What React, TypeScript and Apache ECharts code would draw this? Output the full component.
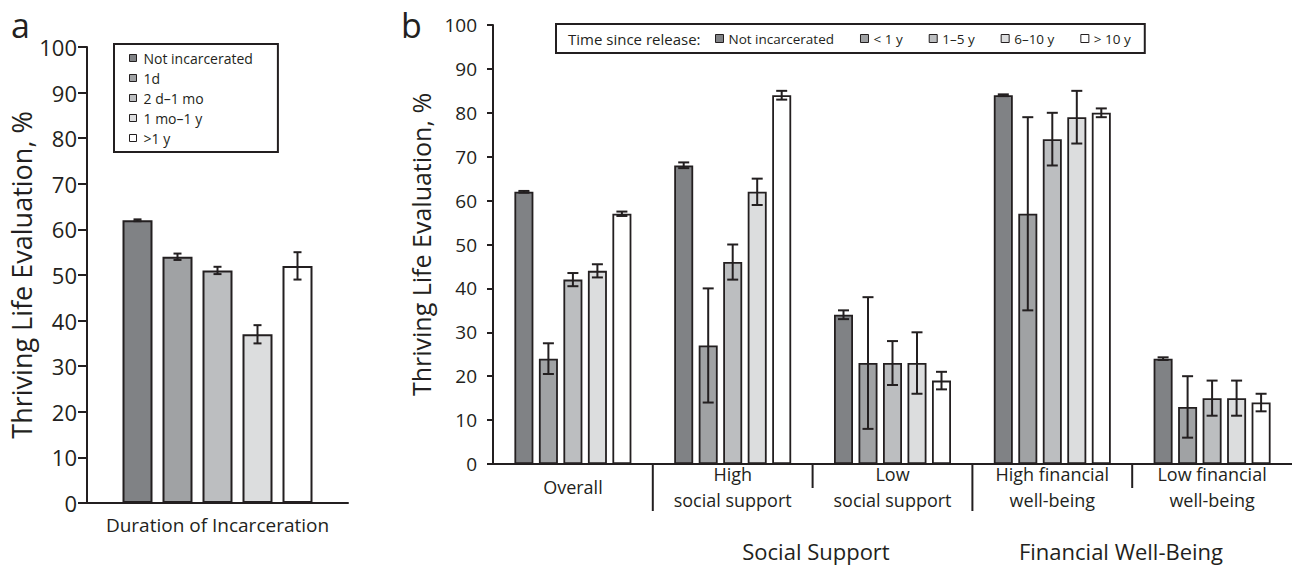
import React, { useEffect, useRef } from "react";
import * as echarts from "echarts";

// ---------- Panel a data ----------
const durationCategories = ["Duration of Incarceration"];
const durationNames = ["Not incarcerated", "1d", "2 d–1 mo", "1 mo–1 y", ">1 y"];
const durationValues = [62, 54, 51, 37, 52];
const durationLow = [61.8, 53.3, 50.2, 35, 49];
const durationHigh = [62.2, 54.7, 51.8, 39, 55];

// ---------- Panel b data ----------
const releaseCategories = [
  "Overall",
  "High\nsocial support",
  "Low\nsocial support",
  "High financial\nwell-being",
  "Low financial\nwell-being",
];
const releaseNames = ["Not incarcerated", "< 1 y", "1–5 y", "6–10 y", "> 10 y"];
const notIncarcerated = [62, 68, 34, 84, 24];
const notIncarceratedLow = [61.8, 67.4, 33, 83.8, 23.7];
const notIncarceratedHigh = [62.2, 68.7, 35, 84.2, 24.3];
const under1y = [24, 27, 23, 57, 13];
const under1yLow = [20.5, 14, 8, 35, 6];
const under1yHigh = [27.5, 40, 38, 79, 20];
const oneTo5y = [42, 46, 23, 74, 15];
const oneTo5yLow = [40.5, 42, 18, 68, 11];
const oneTo5yHigh = [43.5, 50, 28, 80, 19];
const sixTo10y = [44, 62, 23, 79, 15];
const sixTo10yLow = [42.5, 59, 16, 73, 11];
const sixTo10yHigh = [45.5, 65, 30, 85, 19];
const over10y = [57, 84, 19, 80, 14];
const over10yLow = [56.5, 83, 17, 79, 12];
const over10yHigh = [57.5, 85, 21, 81, 16];

const releaseValues = [notIncarcerated, under1y, oneTo5y, sixTo10y, over10y];
const releaseLow = [notIncarceratedLow, under1yLow, oneTo5yLow, sixTo10yLow, over10yLow];
const releaseHigh = [notIncarceratedHigh, under1yHigh, oneTo5yHigh, sixTo10yHigh, over10yHigh];

// separators below the category axis: after category index, long or short
const separatorsAfter = [0, 1, 2, 3];
const separatorLong = [true, false, true, false];

const groupLabels = ["Social Support", "Financial Well-Being"];

const yMin = 0;
const yMax = 100;
const yInterval = 10;

const FONT = "'Open Sans', 'Noto Sans', sans-serif";
const INK = "#231f20";
const barColors = ["#808285", "#a0a2a4", "#bcbec0", "#dcddde", "#ffffff"];

function errorRender(seriesIdx: number, n: number, barW: number, gap: number, capHalf: number, lw: number) {
  return (params: any, api: any) => {
    const cat = api.value(0);
    const lo = api.value(1);
    const hi = api.value(2);
    const pLo = api.coord([cat, lo]);
    const pHi = api.coord([cat, hi]);
    const total = n * barW + (n - 1) * gap;
    const x = pLo[0] - total / 2 + seriesIdx * (barW + gap) + barW / 2;
    const style = { stroke: INK, lineWidth: lw };
    return {
      type: "group",
      children: [
        { type: "line", shape: { x1: x, y1: pLo[1], x2: x, y2: pHi[1] }, style },
        { type: "line", shape: { x1: x - capHalf, y1: pLo[1], x2: x + capHalf, y2: pLo[1] }, style },
        { type: "line", shape: { x1: x - capHalf, y1: pHi[1], x2: x + capHalf, y2: pHi[1] }, style },
      ],
    };
  };
}

export default function App() {
  const ref = useRef<HTMLDivElement>(null);

  useEffect(() => {
    if (!ref.current) return;
    const chart = echarts.init(ref.current, null, { renderer: "svg" });

    const aBarW = 30;
    const aGap = 10;
    const bBarW = 19;
    const bGap = 5.5;

    const series: any[] = [];

    // Panel a bars
    durationNames.forEach((name, i) => {
      series.push({
        type: "bar",
        name,
        xAxisIndex: 0,
        yAxisIndex: 0,
        data: [durationValues[i]],
        barWidth: aBarW,
        barGap: `${(aGap / aBarW) * 100}%`,
        itemStyle: { color: barColors[i], borderColor: INK, borderWidth: 2 },
        z: 2,
      });
    });
    durationNames.forEach((name, i) => {
      series.push({
        type: "custom",
        name: "err-a-" + i,
        xAxisIndex: 0,
        yAxisIndex: 0,
        data: [[0, durationLow[i], durationHigh[i]]],
        encode: { x: 0, y: [1, 2] },
        renderItem: errorRender(i, durationNames.length, aBarW, aGap, 4, 2),
        z: 5,
        silent: true,
      });
    });

    // Panel b bars
    releaseNames.forEach((name, i) => {
      series.push({
        type: "bar",
        name,
        xAxisIndex: 1,
        yAxisIndex: 1,
        data: releaseValues[i],
        barWidth: bBarW,
        barGap: `${(bGap / bBarW) * 100}%`,
        itemStyle: { color: barColors[i], borderColor: INK, borderWidth: 1.8 },
        z: 2,
      });
    });
    releaseNames.forEach((name, i) => {
      series.push({
        type: "custom",
        name: "err-b-" + i,
        xAxisIndex: 1,
        yAxisIndex: 1,
        data: releaseValues[i].map((_, c) => [c, releaseLow[i][c], releaseHigh[i][c]]),
        encode: { x: 0, y: [1, 2] },
        renderItem: errorRender(i, releaseNames.length, bBarW, bGap, 5.5, 2),
        z: 5,
        silent: true,
      });
    });

    // separators below panel b category axis
    series.push({
      type: "custom",
      name: "separators",
      xAxisIndex: 1,
      yAxisIndex: 1,
      clip: false,
      silent: true,
      data: separatorsAfter.map((c, k) => [c, 0, separatorLong[k] ? 1 : 0]),
      encode: { x: 0, y: 1 },
      renderItem: (params: any, api: any) => {
        const p = api.coord([api.value(0), 0]);
        const band = api.size([1, 0])[0];
        const x = p[0] + band / 2;
        const len = api.value(2) ? 47 : 24;
        return {
          type: "line",
          shape: { x1: x, y1: p[1], x2: x, y2: p[1] + len },
          style: { stroke: INK, lineWidth: 2 },
        };
      },
    });

    const yAxisCommon = {
      type: "value",
      min: yMin,
      max: yMax,
      interval: yInterval,
      splitLine: { show: false },
      axisLine: { show: true, lineStyle: { color: INK, width: 2 } },
      nameLocation: "middle",
      nameRotate: 90,
    };

    const option: any = {
      animation: false,
      backgroundColor: "#ffffff",
      textStyle: { fontFamily: FONT, color: INK },
      grid: [
        { left: 87, top: 47, width: 261, height: 456, containLabel: false },
        { left: 493, top: 25, width: 800, height: 439, containLabel: false },
      ],
      xAxis: [
        {
          type: "category",
          gridIndex: 0,
          data: durationCategories,
          axisLine: { show: true, lineStyle: { color: INK, width: 2 } },
          axisTick: { show: false },
          axisLabel: {
            color: INK,
            fontFamily: FONT,
            fontSize: 19,
            margin: 22,
            verticalAlign: "middle",
          },
        },
        {
          type: "category",
          gridIndex: 1,
          data: releaseCategories,
          axisLine: { show: true, lineStyle: { color: INK, width: 2 } },
          axisTick: { show: false },
          axisLabel: {
            color: INK,
            fontFamily: FONT,
            fontSize: 18,
            lineHeight: 26,
            margin: 23,
            verticalAlign: "middle",
            interval: 0,
          },
        },
      ],
      yAxis: [
        {
          ...yAxisCommon,
          gridIndex: 0,
          name: "Thriving Life Evaluation, %",
          nameGap: 49,
          nameTextStyle: { fontFamily: FONT, fontSize: 27, color: INK },
          axisTick: { show: true, length: 9, lineStyle: { color: INK, width: 2 } },
          axisLabel: { color: INK, fontFamily: FONT, fontSize: 22, margin: 10 },
        },
        {
          ...yAxisCommon,
          gridIndex: 1,
          name: "Thriving Life Evaluation, %",
          nameGap: 58,
          nameTextStyle: { fontFamily: FONT, fontSize: 25, color: INK },
          axisTick: { show: true, length: 6, lineStyle: { color: INK, width: 2 } },
          axisLabel: { color: INK, fontFamily: FONT, fontSize: 19, margin: 16 },
        },
      ],
      legend: [
        {
          data: durationNames,
          orient: "vertical",
          left: 114,
          top: 44,
          padding: [7, 25, 7, 15],
          itemGap: 6,
          itemWidth: 7,
          itemHeight: 7,
          icon: "rect",
          selectedMode: false,
          borderColor: INK,
          borderWidth: 2,
          backgroundColor: "#ffffff",
          itemStyle: { borderColor: INK, borderWidth: 1 },
          textStyle: { fontFamily: FONT, fontSize: 14, color: INK, lineHeight: 14, padding: [0, 0, 0, 2] },
        },
        {
          data: releaseNames,
          orient: "horizontal",
          left: 556,
          top: 24,
          padding: [7, 14, 7, 159],
          itemGap: 26,
          itemWidth: 8,
          itemHeight: 8,
          icon: "rect",
          selectedMode: false,
          borderColor: INK,
          borderWidth: 2,
          backgroundColor: "#ffffff",
          itemStyle: { borderColor: INK, borderWidth: 1 },
          textStyle: { fontFamily: FONT, fontSize: 13.5, color: INK, lineHeight: 15 },
        },
      ],
      graphic: [
        { type: "text", left: 11, top: 8, z: 100, style: { text: "a", fontFamily: FONT, fontSize: 34, fill: INK } },
        { type: "text", left: 401, top: 8, z: 100, style: { text: "b", fontFamily: FONT, fontSize: 34, fill: INK } },
        {
          type: "text",
          x: 568,
          y: 39,
          z: 100,
          style: { text: "Time since release:", fontFamily: FONT, fontSize: 15, fill: INK, verticalAlign: "middle", align: "left" },
        },
        {
          type: "text",
          x: 816,
          y: 551,
          z: 100,
          style: { text: groupLabels[0], fontFamily: FONT, fontSize: 22, fill: INK, verticalAlign: "middle", align: "center" },
        },
        {
          type: "text",
          x: 1121,
          y: 551,
          z: 100,
          style: { text: groupLabels[1], fontFamily: FONT, fontSize: 22, fill: INK, verticalAlign: "middle", align: "center" },
        },
      ],
      series,
    };

    chart.setOption(option);
    return () => {
      chart.dispose();
    };
  }, []);

  return (
    <div
      ref={ref}
      style={{ position: "fixed", left: 0, top: 0, width: 1292, height: 565, background: "#fff" }}
    />
  );
}
